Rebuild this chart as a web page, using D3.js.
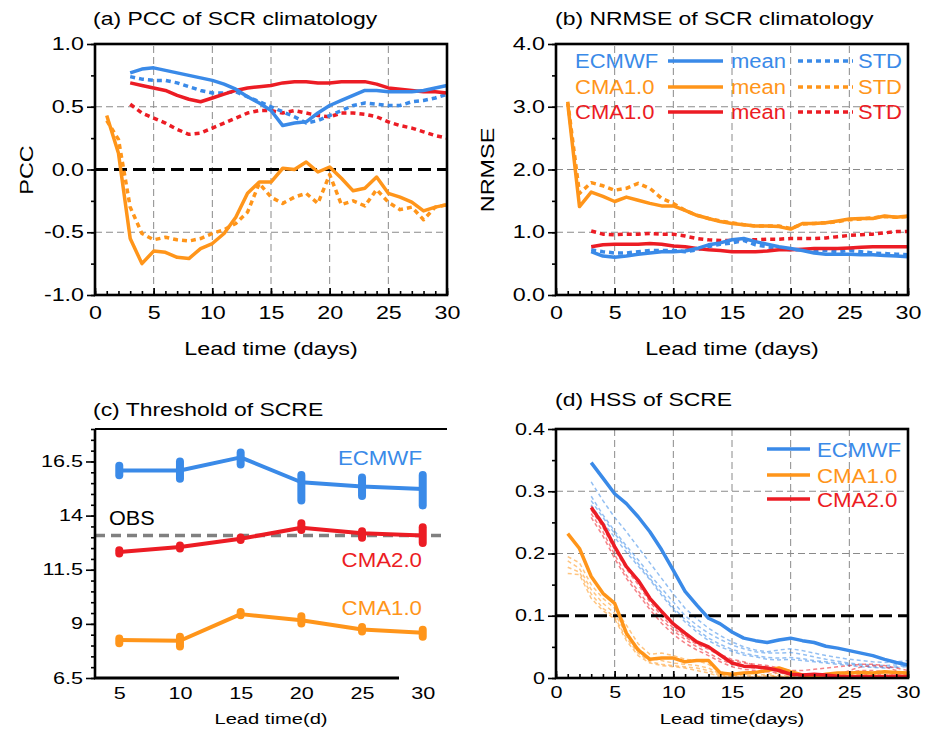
<!DOCTYPE html>
<html lang="en">
<head>
<meta charset="UTF-8" />
<title>SCR climatology and SCRE</title>
<script src="https://d3js.org/d3.v7.min.js"></script>
<style>
  body { margin: 0; background: #fff; }
  svg text { font-family: 'Liberation Sans', Arial, Helvetica, sans-serif; fill: #000; }
</style>
</head>
<body>
<svg width="935" height="735"></svg>
<script>
// colours
const BLUE = '#3a8ae8', ORANGE = '#ff951a', RED = '#ec1c24';

// (a) PCC of SCR climatology  (ECMWF / CMA2.0 from day 3, CMA1.0 from day 1)
const pccEcMean = [0.77,0.80,0.81,0.79,0.77,0.75,0.73,0.71,0.68,0.64,0.58,0.53,0.47,0.35,0.37,0.38,0.45,0.51,0.55,0.59,0.63,0.63,0.62,0.62,0.62,0.63,0.65,0.67];
const pccEcStd = [0.74,0.72,0.71,0.71,0.69,0.66,0.63,0.61,0.61,0.62,0.58,0.54,0.50,0.46,0.42,0.37,0.39,0.43,0.47,0.51,0.53,0.52,0.51,0.51,0.54,0.55,0.57,0.60];
const pccCma2Mean = [0.69,0.67,0.65,0.63,0.59,0.56,0.54,0.57,0.60,0.63,0.65,0.66,0.67,0.69,0.70,0.70,0.69,0.69,0.70,0.70,0.70,0.68,0.65,0.64,0.63,0.62,0.62,0.61];
const pccCma2Std = [0.52,0.45,0.41,0.37,0.32,0.28,0.29,0.33,0.37,0.41,0.45,0.47,0.47,0.45,0.47,0.45,0.43,0.42,0.45,0.45,0.44,0.42,0.38,0.35,0.33,0.30,0.27,0.25];
const pccCma1Mean = [0.43,0.13,-0.55,-0.75,-0.65,-0.66,-0.70,-0.71,-0.63,-0.59,-0.51,-0.38,-0.19,-0.10,-0.10,0.01,0.00,0.06,-0.02,0.02,-0.07,-0.17,-0.15,-0.06,-0.19,-0.22,-0.26,-0.33,-0.30,-0.28];
const pccCma1Std = [0.39,0.24,-0.30,-0.51,-0.56,-0.54,-0.56,-0.57,-0.55,-0.51,-0.48,-0.43,-0.34,-0.11,-0.22,-0.27,-0.22,-0.19,-0.27,-0.04,-0.28,-0.25,-0.29,-0.16,-0.26,-0.32,-0.30,-0.40,-0.30,-0.28];

// (b) NRMSE of SCR climatology
const nrmseEcMean = [0.69,0.62,0.60,0.62,0.65,0.67,0.69,0.69,0.70,0.74,0.80,0.83,0.88,0.90,0.85,0.81,0.77,0.74,0.71,0.67,0.65,0.65,0.65,0.64,0.64,0.63,0.62,0.61];
const nrmseEcStd = [0.72,0.69,0.67,0.67,0.69,0.71,0.71,0.71,0.69,0.72,0.77,0.81,0.83,0.87,0.80,0.77,0.74,0.72,0.72,0.71,0.71,0.69,0.71,0.69,0.67,0.66,0.65,0.64];
const nrmseCma2Mean = [0.77,0.80,0.81,0.81,0.81,0.82,0.81,0.78,0.77,0.74,0.72,0.71,0.69,0.69,0.69,0.70,0.72,0.72,0.73,0.74,0.74,0.74,0.75,0.76,0.77,0.77,0.77,0.77];
const nrmseCma2Std = [1.02,0.97,0.96,0.97,0.97,0.98,0.97,0.97,0.94,0.90,0.88,0.87,0.87,0.88,0.88,0.89,0.89,0.90,0.90,0.90,0.91,0.93,0.95,0.96,0.97,0.99,1.01,1.01];
const nrmseCma1Mean = [3.05,1.41,1.64,1.57,1.49,1.56,1.51,1.46,1.42,1.42,1.35,1.27,1.22,1.17,1.14,1.12,1.10,1.10,1.09,1.05,1.14,1.14,1.15,1.18,1.21,1.22,1.22,1.26,1.24,1.26];
const nrmseCma1Std = [3.08,1.62,1.79,1.74,1.67,1.70,1.78,1.70,1.54,1.46,1.35,1.27,1.22,1.18,1.15,1.12,1.10,1.10,1.10,1.06,1.13,1.14,1.15,1.17,1.20,1.21,1.23,1.25,1.24,1.25];

// (c) Threshold of SCRE
const leadC = [5, 10, 15, 20, 25, 30];
const thrEc = [16.08,16.08,16.69,15.54,15.34,15.23];
const thrEcLo = [15.86,15.70,16.36,14.70,14.90,14.47];
const thrEcHi = [16.30,16.50,16.91,15.88,15.76,15.88];
const thrCma2 = [12.32,12.55,12.93,13.44,13.19,13.08];
const thrCma2Lo = [12.25,12.48,12.87,13.33,12.98,12.74];
const thrCma2Hi = [12.40,12.62,12.99,13.65,13.28,13.46];
const thrCma1 = [8.25,8.22,9.45,9.17,8.74,8.59];
const thrCma1Lo = [8.10,7.95,9.40,9.02,8.65,8.41];
const thrCma1Hi = [8.32,8.40,9.55,9.35,8.85,8.73];
const thrObs = 13.08;

// (d) HSS of SCRE: ensemble mean + members
const hssEc = [0.346,0.321,0.296,0.280,0.259,0.235,0.206,0.173,0.139,0.117,0.096,0.087,0.074,0.064,0.060,0.057,0.061,0.064,0.060,0.057,0.051,0.048,0.044,0.040,0.036,0.030,0.025,0.021];
const hssCma2 = [0.274,0.247,0.211,0.179,0.157,0.128,0.107,0.087,0.072,0.058,0.050,0.037,0.024,0.019,0.018,0.016,0.012,0.006,0.005,0.006,0.005,0.003,0.002,0.002,0.002,0.002,0.003,0.002];
const hssCma1 = [0.232,0.208,0.163,0.136,0.120,0.072,0.045,0.030,0.032,0.032,0.026,0.028,0.028,0.008,0.006,0.008,0.009,0.012,0.016,0.010,0.005,0.003,0.006,0.008,0.008,0.009,0.008,0.010,0.009,0.008];
const hssEcMembers = [
  [0.315,0.285,0.258,0.235,0.210,0.185,0.160,0.135,0.112,0.095,0.080,0.068,0.058,0.050,0.045,0.042,0.045,0.047,0.044,0.040,0.036,0.033,0.030,0.028,0.026,0.025,0.026,0.028],
  [0.292,0.262,0.236,0.212,0.190,0.166,0.144,0.122,0.100,0.085,0.072,0.062,0.053,0.047,0.042,0.040,0.040,0.041,0.038,0.034,0.030,0.027,0.024,0.022,0.021,0.020,0.021,0.022],
  [0.285,0.258,0.232,0.208,0.184,0.160,0.137,0.113,0.094,0.078,0.064,0.054,0.046,0.040,0.036,0.033,0.032,0.033,0.031,0.028,0.026,0.024,0.022,0.020,0.018,0.017,0.018,0.020],
  [0.278,0.250,0.226,0.202,0.180,0.158,0.133,0.110,0.090,0.074,0.060,0.050,0.043,0.037,0.034,0.030,0.029,0.030,0.028,0.026,0.024,0.022,0.020,0.018,0.017,0.016,0.017,0.018]
];
const hssCma2Members = [
  [0.270,0.242,0.206,0.175,0.150,0.122,0.100,0.080,0.066,0.054,0.046,0.036,0.028,0.024,0.022,0.020,0.016,0.012,0.012,0.014,0.016,0.018,0.020,0.022,0.022,0.020,0.016,0.012],
  [0.264,0.235,0.198,0.165,0.140,0.115,0.094,0.076,0.062,0.050,0.040,0.030,0.022,0.018,0.016,0.014,0.010,0.008,0.006,0.005,0.006,0.008,0.010,0.012,0.012,0.010,0.008,0.006],
  [0.258,0.228,0.192,0.160,0.135,0.110,0.088,0.070,0.056,0.045,0.036,0.026,0.018,0.014,0.012,0.010,0.008,0.006,0.004,0.004,0.003,0.004,0.005,0.006,0.006,0.005,0.004,0.003],
  [0.276,0.246,0.210,0.178,0.154,0.126,0.104,0.084,0.068,0.056,0.048,0.038,0.030,0.026,0.020,0.016,0.012,0.008,0.006,0.004,0.004,0.005,0.012,0.018,0.020,0.018,0.012,0.006]
];
const hssCma1Members = [
  [0.195,0.185,0.150,0.128,0.112,0.085,0.055,0.038,0.040,0.036,0.030,0.028,0.022,0.010,0.005,0.003,0.004,0.006,0.008,0.006,0.004,0.003,0.002,0.002,0.003,0.004,0.006,0.008,0.010,0.010],
  [0.188,0.176,0.142,0.120,0.104,0.070,0.048,0.032,0.028,0.024,0.022,0.020,0.016,0.006,0.002,0.001,0.002,0.004,0.004,0.003,0.002,0.001,0.001,0.001,0.002,0.003,0.004,0.005,0.006,0.006],
  [0.178,0.170,0.135,0.112,0.098,0.064,0.040,0.026,0.022,0.020,0.018,0.016,0.012,0.004,0.001,0.000,0.001,0.002,0.003,0.002,0.001,0.000,0.000,0.001,0.001,0.002,0.003,0.004,0.004,0.004],
  [0.168,0.166,0.128,0.108,0.095,0.060,0.036,0.024,0.020,0.018,0.016,0.012,0.008,0.002,0.000,0.000,0.000,0.001,0.002,0.001,0.000,0.000,0.000,0.000,0.000,0.001,0.002,0.003,0.003,0.003]
];

const svg = d3.select('svg');
svg.append('rect').attr('width', 935).attr('height', 735).attr('fill', '#fff');

// the original font is wider than Arial, so stretch text horizontally
function stretch(sel, k) {
  sel.each(function () {
    const w = this.getComputedTextLength();
    d3.select(this).attr('textLength', w * k).attr('lengthAdjust', 'spacingAndGlyphs');
  });
}

function addText(x, y, str, size, k, opts = {}) {
  const t = svg.append('text')
    .attr('x', x).attr('y', y)
    .attr('font-size', size)
    .attr('text-anchor', opts.anchor || 'start')
    .style('fill', opts.color || '#000')
    .text(str);
  if (opts.rotate) t.attr('transform', `rotate(-90,${x},${y})`);
  stretch(t, k);
  return t;
}

const pairs = (vals, start) => vals.map((v, i) => [start + i, v]);

function grid(x, y, xs, ys) {
  const g = svg.append('g');
  g.selectAll(null).data(xs).join('line')
    .attr('x1', d => x(d)).attr('x2', d => x(d))
    .attr('y1', y.range()[0]).attr('y2', y.range()[1]);
  g.selectAll(null).data(ys).join('line')
    .attr('y1', d => y(d)).attr('y2', d => y(d))
    .attr('x1', x.range()[0]).attr('x2', x.range()[1]);
  g.selectAll('line').attr('stroke', '#8a8a8a').attr('stroke-width', 1).attr('stroke-dasharray', '7,4');
}

function refLine(x, y, v, color, width, dash) {
  svg.append('line')
    .attr('x1', x.range()[0]).attr('x2', x.range()[1])
    .attr('y1', y(v)).attr('y2', y(v))
    .attr('stroke', color).attr('stroke-width', width).attr('stroke-dasharray', dash);
}

function series(x, y, data, color, width, dash, opacity = 1) {
  const line = d3.line().x(d => x(d[0])).y(d => y(d[1]));
  svg.append('path')
    .datum(data)
    .attr('d', line)
    .attr('fill', 'none')
    .attr('stroke', color)
    .attr('stroke-width', width)
    .attr('stroke-dasharray', dash || null)
    .attr('stroke-linejoin', 'round')
    .attr('opacity', opacity);
}

function styleAxis(g, fontSize, k) {
  g.select('.domain').remove();
  g.selectAll('.tick line').attr('stroke', '#000').attr('stroke-width', 1.6);
  g.selectAll('.tick text').attr('font-size', fontSize).style('fill', '#000').call(stretch, k);
}

// standard frame with inward x ticks and outward y ticks
function frame(x, y, cfg) {
  const [x0, x1] = x.range();
  const [y1, y0] = y.range();
  const xa = svg.append('g').attr('transform', `translate(0,${y1})`);
  xa.call(d3.axisBottom(x).tickValues(cfg.xMinor).tickSize(-4).tickFormat(''));
  styleAxis(xa, cfg.fs, cfg.k);
  const xb = svg.append('g').attr('transform', `translate(0,${y1})`);
  xb.call(d3.axisBottom(x).tickValues(cfg.xMajor).tickSize(-7).tickPadding(cfg.xPad).tickFormat(d3.format('d')));
  styleAxis(xb, cfg.fs, cfg.k);

  const ya = svg.append('g').attr('transform', `translate(${x0},0)`);
  ya.call(d3.axisLeft(y).tickValues(cfg.yMinor).tickSize(4).tickFormat(''));
  styleAxis(ya, cfg.fs, cfg.k);
  const yb = svg.append('g').attr('transform', `translate(${x0},0)`);
  yb.call(d3.axisLeft(y).tickValues(cfg.yMajor).tickSize(8).tickPadding(3).tickFormat(cfg.yFmt));
  styleAxis(yb, cfg.fs, cfg.k);

  svg.append('rect')
    .attr('x', x0).attr('y', y0).attr('width', x1 - x0).attr('height', y1 - y0)
    .attr('fill', 'none').attr('stroke', '#000').attr('stroke-width', 2.6);
}

const dayMajor = [0, 5, 10, 15, 20, 25, 30];
const dayMinor = d3.range(0, 31);
const gridDays = [5, 10, 15, 20, 25];
const DOT = '5,4';

// ---------------- (a) PCC ----------------
const xA = d3.scaleLinear().domain([0, 30]).range([95, 447]);
const yA = d3.scaleLinear().domain([-1, 1]).range([295, 44]);
grid(xA, yA, gridDays, [-0.5, 0.5]);
refLine(xA, yA, 0, '#000', 3, '13,6');
series(xA, yA, pairs(pccCma1Std, 1), ORANGE, 3.5, DOT);
series(xA, yA, pairs(pccCma2Std, 3), RED, 3.5, DOT);
series(xA, yA, pairs(pccEcStd, 3), BLUE, 3.5, DOT);
series(xA, yA, pairs(pccCma1Mean, 1), ORANGE, 3.5);
series(xA, yA, pairs(pccCma2Mean, 3), RED, 3.5);
series(xA, yA, pairs(pccEcMean, 3), BLUE, 3.5);
frame(xA, yA, {
  xMajor: dayMajor, xMinor: dayMinor, xPad: 12,
  yMajor: [-1, -0.5, 0, 0.5, 1], yMinor: d3.range(-1, 1.01, 0.25),
  yFmt: d => d.toFixed(1), fs: 17.5, k: 1.33
});
addText(93, 25, '(a) PCC of SCR climatology', 17.5, 1.31);
addText(271, 355, 'Lead time (days)', 17.5, 1.33, { anchor: 'middle' });
addText(33, 170, 'PCC', 18, 1.3, { anchor: 'middle', rotate: true });

// ---------------- (b) NRMSE ----------------
const xB = d3.scaleLinear().domain([0, 30]).range([556, 908]);
const yB = d3.scaleLinear().domain([0, 4]).range([295, 44]);
grid(xB, yB, gridDays, [1, 2, 3]);
series(xB, yB, pairs(nrmseCma1Std, 1), ORANGE, 3.5, DOT);
series(xB, yB, pairs(nrmseCma2Std, 3), RED, 3.5, DOT);
series(xB, yB, pairs(nrmseEcStd, 3), BLUE, 3.5, DOT);
series(xB, yB, pairs(nrmseCma1Mean, 1), ORANGE, 3.5);
series(xB, yB, pairs(nrmseCma2Mean, 3), RED, 3.5);
series(xB, yB, pairs(nrmseEcMean, 3), BLUE, 3.5);
frame(xB, yB, {
  xMajor: dayMajor, xMinor: dayMinor, xPad: 12,
  yMajor: [0, 1, 2, 3, 4], yMinor: d3.range(0, 4.01, 0.5),
  yFmt: d => d.toFixed(1), fs: 17.5, k: 1.33
});
addText(555, 25, '(b) NRMSE of SCR climatology', 17.5, 1.31);
addText(732, 355, 'Lead time (days)', 17.5, 1.33, { anchor: 'middle' });
addText(494, 170, 'NRMSE', 18, 1.3, { anchor: 'middle', rotate: true });

// legend (b)
const legB = [
  { name: 'ECMWF', color: BLUE, y: 61 },
  { name: 'CMA1.0', color: ORANGE, y: 87 },
  { name: 'CMA1.0', color: RED, y: 112 }
];
legB.forEach(r => {
  addText(575, r.y + 7, r.name, 20, 1.1, { color: r.color });
  svg.append('line').attr('x1', 668).attr('x2', 723).attr('y1', r.y).attr('y2', r.y)
    .attr('stroke', r.color).attr('stroke-width', 3.5);
  addText(731, r.y + 7, 'mean', 20, 1.1, { color: r.color });
  svg.append('line').attr('x1', 798).attr('x2', 853).attr('y1', r.y).attr('y2', r.y)
    .attr('stroke', r.color).attr('stroke-width', 3.5).attr('stroke-dasharray', DOT);
  addText(858, r.y + 7, 'STD', 20, 1.1, { color: r.color });
});

// ---------------- (c) Threshold ----------------
const xC = d3.scaleLinear().domain([3, 32]).range([95, 447]);
const yC = d3.scaleLinear().domain([6.5, 18]).range([678, 429]);
refLine(xC, yC, thrObs, '#808080', 3.5, '10,6');
const modelsC = [
  { mid: thrCma1, lo: thrCma1Lo, hi: thrCma1Hi, color: ORANGE },
  { mid: thrCma2, lo: thrCma2Lo, hi: thrCma2Hi, color: RED },
  { mid: thrEc, lo: thrEcLo, hi: thrEcHi, color: BLUE }
];
modelsC.forEach(m => {
  series(xC, yC, m.mid.map((v, i) => [leadC[i], v]), m.color, 4);
  svg.append('g').selectAll('line').data(leadC).join('line')
    .attr('x1', d => xC(d)).attr('x2', d => xC(d))
    .attr('y1', (d, i) => yC(m.lo[i])).attr('y2', (d, i) => yC(m.hi[i]))
    .attr('stroke', m.color).attr('stroke-width', 8).attr('stroke-linecap', 'round');
});
{
  const ya = svg.append('g').attr('transform', 'translate(95,0)');
  ya.call(d3.axisLeft(yC).tickValues(d3.range(6.5, 18.01, 0.5)).tickSize(4).tickFormat(''));
  styleAxis(ya, 16, 1.35);
  const yb = svg.append('g').attr('transform', 'translate(95,0)');
  yb.call(d3.axisLeft(yC).tickValues([6.5, 9, 11.5, 14, 16.5]).tickSize(9).tickPadding(3).tickFormat(d => d % 1 ? d.toFixed(1) : d));
  styleAxis(yb, 16, 1.35);
  const xb = svg.append('g').attr('transform', 'translate(0,678)');
  xb.call(d3.axisBottom(xC).tickValues(leadC).tickSize(0).tickPadding(10).tickFormat(d3.format('d')));
  styleAxis(xb, 16, 1.35);
  svg.append('line').attr('x1', 95).attr('x2', 95).attr('y1', 429).attr('y2', 678).attr('stroke', '#000').attr('stroke-width', 2.6);
  svg.append('line').attr('x1', 95).attr('x2', 447).attr('y1', 429).attr('y2', 429).attr('stroke', '#000').attr('stroke-width', 2.2);
  svg.append('line').attr('x1', 94).attr('x2', 399).attr('y1', 678).attr('y2', 678).attr('stroke', '#000').attr('stroke-width', 3);
}
addText(93, 416, '(c) Threshold of SCRE', 17.5, 1.31);
addText(271, 724, 'Lead time(d)', 15.5, 1.3, { anchor: 'middle' });
addText(422, 465, 'ECMWF', 21, 1.06, { anchor: 'end', color: BLUE });
addText(109, 525, 'OBS', 20, 1.08);
addText(422, 567, 'CMA2.0', 21, 1.06, { anchor: 'end', color: RED });
addText(422, 615, 'CMA1.0', 21, 1.06, { anchor: 'end', color: ORANGE });

// ---------------- (d) HSS ----------------
const xD = d3.scaleLinear().domain([0, 30]).range([556, 908]);
const yD = d3.scaleLinear().domain([0, 0.4]).range([678, 429]);
grid(xD, yD, gridDays, [0.2, 0.3]);
hssCma1Members.forEach(m => series(xD, yD, pairs(m, 1), ORANGE, 1.5, '4,3', 0.55));
hssEcMembers.forEach(m => series(xD, yD, pairs(m, 3), BLUE, 1.5, '4,3', 0.55));
hssCma2Members.forEach(m => series(xD, yD, pairs(m, 3), RED, 1.5, '4,3', 0.55));
refLine(xD, yD, 0.1, '#000', 3, '13,6');
series(xD, yD, pairs(hssCma1, 1), ORANGE, 3.5);
series(xD, yD, pairs(hssEc, 3), BLUE, 3.5);
series(xD, yD, pairs(hssCma2, 3), RED, 3.5);
frame(xD, yD, {
  xMajor: dayMajor, xMinor: dayMinor, xPad: 9,
  yMajor: [0, 0.1, 0.2, 0.3, 0.4], yMinor: d3.range(0, 0.401, 0.05),
  yFmt: d => d === 0 ? '0' : d.toFixed(1), fs: 16, k: 1.35
});
addText(555, 406, '(d) HSS of SCRE', 17.5, 1.31);
addText(732, 724, 'Lead time(days)', 15.5, 1.3, { anchor: 'middle' });
const legD = [
  { name: 'ECMWF', color: BLUE, y: 449 },
  { name: 'CMA1.0', color: ORANGE, y: 475 },
  { name: 'CMA2.0', color: RED, y: 499 }
];
legD.forEach(r => {
  svg.append('line').attr('x1', 767).attr('x2', 810).attr('y1', r.y).attr('y2', r.y)
    .attr('stroke', r.color).attr('stroke-width', 3.5);
  addText(817, r.y + 7.5, r.name, 21, 1.06, { color: r.color });
});
</script>
</body>
</html>
